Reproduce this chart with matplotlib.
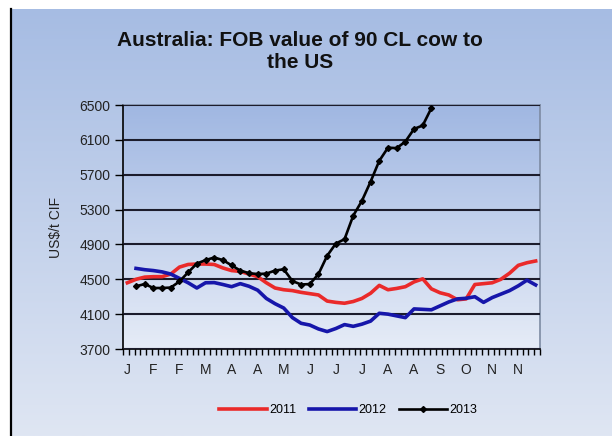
import numpy as np
import matplotlib
matplotlib.use("Agg")
import matplotlib.pyplot as plt
from matplotlib.lines import Line2D
from matplotlib.colors import LinearSegmentedColormap

plt.rcParams['font.family'] = ['Liberation Sans', 'DejaVu Sans']

# weekly values, US$/t CIF
month_labels = ['J', 'F', 'F', 'M', 'A', 'A', 'M', 'J', 'J', 'J', 'A', 'A', 'S', 'O', 'N', 'N']

vals_2011 = [4460, 4500, 4525, 4530, 4530, 4560, 4640, 4670, 4675, 4675,
             4670, 4630, 4600, 4590, 4560, 4530, 4460, 4400, 4380, 4370,
             4350, 4335, 4320, 4250, 4235, 4225, 4245, 4280, 4340, 4430,
             4380, 4395, 4415, 4470, 4505, 4390, 4345, 4320, 4265, 4275,
             4440, 4450, 4460, 4500, 4570, 4660, 4690, 4710]

vals_2012 = [np.nan, 4625, 4610, 4600, 4585, 4560, 4510, 4460, 4400, 4460,
             4462, 4440, 4415, 4450, 4420, 4375, 4280, 4220, 4170, 4060,
             3995, 3975, 3930, 3900, 3935, 3980, 3960, 3985, 4020, 4110,
             4100, 4080, 4060, 4160, 4155, 4150, 4195, 4240, 4275, 4282,
             4300, 4235, 4290, 4330, 4370, 4425, 4490, 4435]

vals_2013 = [np.nan, 4420, 4445, 4400, 4400, 4405, 4475, 4580, 4680, 4720,
             4750, 4720, 4660, 4600, 4570, 4560, 4565, 4600, 4615, 4480,
             4440, 4445, 4560, 4770, 4910, 4960, 5230, 5400, 5620, 5860,
             6010, 6005, 6080, 6225, 6265, 6465]

W, H = 612, 436
fig = plt.figure(figsize=(W / 100, H / 100), dpi=100)
fig.patch.set_facecolor('white')

# chart area gradient
bg_cmap = LinearSegmentedColormap.from_list('bg', ['#dfe6f3', '#a6bce3'])
bg = fig.add_axes([10 / W, 0, 1 - 10 / W, 1 - 9 / H])
bg.imshow(np.linspace(0, 1, 256).reshape(-1, 1), cmap=bg_cmap, origin='lower',
          extent=[0, 1, 0, 1], aspect='auto')
bg.axis('off')
fig.add_artist(Line2D([10.5 / W, 10.5 / W], [0, 1 - 9 / H], color='black', lw=1.6))

# plot area
ax = fig.add_axes([123 / W, (H - 349) / H, (540 - 123) / W, (349 - 105) / H])
n = len(vals_2011)
plot_cmap = LinearSegmentedColormap.from_list('pl', ['#e6ecf7', '#a0b7e2'])
ax.imshow(np.linspace(0, 1, 256).reshape(-1, 1), cmap=plot_cmap, origin='lower',
          extent=[0, n, 3700, 6500], aspect='auto', zorder=0)

x = np.arange(n) + 0.5
ax.plot(x, vals_2011, color='#ea2a2a', lw=2.6, label='2011', zorder=3)
ax.plot(x, vals_2012, color='#1616aa', lw=2.6, label='2012', zorder=3)
ax.plot(x[:len(vals_2013)], vals_2013, color='black', lw=1.9, marker='D',
        markersize=3, label='2013', zorder=4)

ax.set_xlim(0, n)
ax.set_ylim(3700, 6500)
ax.set_yticks(np.arange(3700, 6501, 400))
ax.grid(axis='y', color='#1c1c2c', lw=1.5, zorder=1)
ax.set_axisbelow(False)

ax.set_xticks(np.arange(len(month_labels)) * 3 + 0.5)
ax.set_xticklabels(month_labels)
ax.set_xticks(np.linspace(0, n, 73), minor=True)
ax.tick_params(axis='x', which='major', length=0, pad=10, labelsize=10, labelcolor='#222222')
ax.tick_params(axis='x', which='minor', length=4, width=1, direction='out', color='black')
ax.tick_params(axis='y', length=6, width=1, direction='out', labelsize=10, pad=3, labelcolor='#222222')

for s in ['top', 'right']:
    ax.spines[s].set_color('#7d8ba3')
    ax.spines[s].set_linewidth(1.2)
for s in ['left', 'bottom']:
    ax.spines[s].set_color('black')
    ax.spines[s].set_linewidth(1.2)

ax.set_ylabel('US$/t CIF', fontsize=10, color='#222222', labelpad=12)

fig.text(300 / W, 1 - 52 / H, 'Australia: FOB value of 90 CL cow to\nthe US',
         ha='center', va='center', fontsize=15, fontweight='bold',
         linespacing=1.2, color='#111111')

fig.legend(loc='center', bbox_to_anchor=(348 / W, (H - 410) / H), ncol=3,
           frameon=False, fontsize=9, handlelength=3.8, handletextpad=0.2,
           columnspacing=1.0)

fig.savefig('out.png', dpi=100)
